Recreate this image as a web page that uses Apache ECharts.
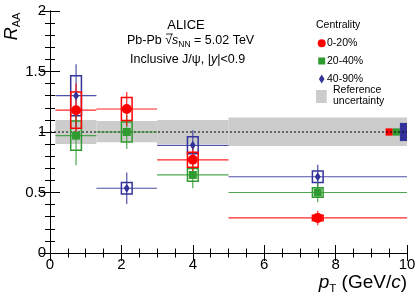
<!DOCTYPE html>
<html><head><meta charset="utf-8">
<script src="https://cdn.jsdelivr.net/npm/echarts@6/dist/echarts.min.js"></script>
<style>html,body{margin:0;padding:0;background:#fff}#c{width:420px;height:302px}</style>
</head><body><div id="c"></div>
<script>
// ---- data ----
const ptCenter = [0.73, 2.15, 4.0, 7.5];
const ptLow = [0.15, 1.3, 3, 5];
const ptHigh = [1.3, 3, 5, 10];

const raa020 = [1.18, 1.19, 0.77, 0.29];
const stat020 = [0.22, 0.14, 0.11, 0.06];
const syst020 = [0.15, 0.095, 0.062, 0.023];

const raa2040 = [0.97, 1.0, 0.645, 0.50];
const stat2040 = [0.245, 0.14, 0.11, 0.08];
const syst2040 = [0.12, 0.082, 0.053, 0.04];

const raa4090 = [1.30, 0.535, 0.89, 0.63];
const stat4090 = [0.26, 0.13, 0.125, 0.10];
const syst4090 = [0.165, 0.047, 0.07, 0.047];

const refLow = [0.15, 1.3, 3, 5];
const refHigh = [1.3, 3, 5, 10];
const refUp = [1.10, 1.09, 1.10, 1.12];
const refDown = [0.90, 0.915, 0.90, 0.885];

const globalLow = [9.4, 9.6, 9.8];
const globalHigh = [9.6, 9.8, 10.0];
const globalUnc = [0.03, 0.03, 0.075];

const xTickLabels = ['0', '2', '4', '6', '8', '10'];
const yTickLabels = ['0', '0.5', '1', '1.5', '2'];

const cRed = '#ff0000', cGreen = '#2f9a2f', cBlue = '#333399';
const FONT = '"Liberation Sans", Arial, Helvetica, sans-serif';

function errSeries(name, color, vals, stat, syst) {
  return {
    type: 'custom', name: name,
    data: ptCenter.map((x, i) => [x, vals[i], ptLow[i], ptHigh[i], stat[i], syst[i]]),
    encode: { x: 0, y: 1 },
    renderItem: function (params, api) {
      const xc = api.value(0), y = api.value(1), xl = api.value(2), xh = api.value(3);
      const s = api.value(4), sy = api.value(5);
      const pL = api.coord([xl, y]), pH = api.coord([xh, y]);
      const pT = api.coord([xc, y + s]), pB = api.coord([xc, y - s]);
      const b1 = api.coord([xc - 0.15, y + sy]), b2 = api.coord([xc + 0.15, y - sy]);
      return { type: 'group', children: [
        { type: 'line', shape: { x1: pL[0], y1: pL[1], x2: pH[0], y2: pH[1] }, style: { stroke: color, lineWidth: 1.2, opacity: 0.85 } },
        { type: 'line', shape: { x1: pT[0], y1: pT[1], x2: pB[0], y2: pB[1] }, style: { stroke: color, lineWidth: 1.2, opacity: 0.85 } },
        { type: 'rect', shape: { x: b1[0], y: b1[1], width: b2[0] - b1[0], height: b2[1] - b1[1] }, style: { fill: 'none', stroke: color, lineWidth: 1.5 } }
      ] };
    },
    z: 5
  };
}
function markerSeries(color, vals, symbol, size) {
  return {
    type: 'scatter', data: ptCenter.map((x, i) => [x, vals[i]]),
    symbol: symbol, symbolSize: size, itemStyle: { color: color, opacity: 1 },
    z: 6, silent: true
  };
}

const chart = echarts.init(document.getElementById('c'), null, { renderer: 'canvas' });
const axisCommon = {
  axisLine: { show: true, lineStyle: { color: '#000', width: 1 } },
  splitLine: { show: false },
  axisTick: { show: true, inside: true, length: 8, lineStyle: { color: '#000' } },
  minorTick: { show: true, splitNumber: 4, length: 4.5, lineStyle: { color: '#000' } }
};
const option = {
  animation: false,
  backgroundColor: '#fff',
  grid: { left: 50, right: 13, top: 11, bottom: 49 },
  xAxis: [
    Object.assign({}, axisCommon, { type: 'value', min: 0, max: 10, interval: 2, position: 'bottom',
      axisLabel: { show: true, color: '#000', fontSize: 15, fontFamily: FONT, margin: 4,
        formatter: v => xTickLabels[Math.round(v / 2)] } }),
    Object.assign({}, axisCommon, { type: 'value', min: 0, max: 10, interval: 2, position: 'top',
      axisLabel: { show: false } })
  ],
  yAxis: [
    Object.assign({}, axisCommon, { type: 'value', min: 0, max: 2, interval: 0.5, position: 'left',
      axisTick: { show: true, inside: true, length: 10, lineStyle: { color: '#000' } },
      minorTick: { show: true, splitNumber: 5, length: 5, lineStyle: { color: '#000' } },
      axisLabel: { show: true, color: '#000', fontSize: 15, fontFamily: FONT, margin: 4,
        formatter: v => yTickLabels[Math.round(v / 0.5)] } }),
    Object.assign({}, axisCommon, { type: 'value', min: 0, max: 2, interval: 0.5, position: 'right',
      axisTick: { show: true, inside: true, length: 10, lineStyle: { color: '#000' } },
      minorTick: { show: true, splitNumber: 5, length: 5, lineStyle: { color: '#000' } },
      axisLabel: { show: false } })
  ],
  series: [
    {
      type: 'custom', name: 'ref',
      data: refLow.map((x, i) => [x, refHigh[i], refDown[i], refUp[i]]),
      encode: { x: [0, 1], y: [2, 3] },
      renderItem: function (params, api) {
        const p1 = api.coord([api.value(0), api.value(3)]);
        const p2 = api.coord([api.value(1), api.value(2)]);
        return { type: 'rect', shape: { x: p1[0], y: p1[1], width: p2[0] - p1[0], height: p2[1] - p1[1] }, style: { fill: '#cccccc' } };
      },
      z: 1
    },
    {
      type: 'custom', name: 'global',
      data: globalLow.map((x, i) => [x, globalHigh[i], globalUnc[i], i]),
      encode: { x: [0, 1], y: 2 },
      renderItem: function (params, api) {
        const cols = [cRed, cGreen, cBlue];
        const u = api.value(2);
        const p1 = api.coord([api.value(0), 1 + u]);
        const p2 = api.coord([api.value(1), 1 - u]);
        return { type: 'rect', shape: { x: p1[0], y: p1[1], width: p2[0] - p1[0], height: p2[1] - p1[1] }, style: { fill: cols[api.value(3)] } };
      },
      z: 2
    },
    {
      type: 'line', data: [[0, 1], [10, 1]], symbol: 'none', silent: true,
      lineStyle: { color: '#000', width: 1, type: [2, 2] }, z: 3
    },
    errSeries('40-90%', cBlue, raa4090, stat4090, syst4090),
    errSeries('20-40%', cGreen, raa2040, stat2040, syst2040),
    errSeries('0-20%', cRed, raa020, stat020, syst020),
    markerSeries(cBlue, raa4090, 'diamond', [6, 9]),
    markerSeries(cGreen, raa2040, 'rect', 8),
    markerSeries(cRed, raa020, 'circle', 10)
  ],
  graphic: [
    { type: 'text', x: 11.5, y: 26.5, rotation: Math.PI / 2, z: 10,
      style: { text: '{r|R}{s|AA}', textAlign: 'center', textVerticalAlign: 'middle',
        rich: { r: { fontSize: 18, fontStyle: 'italic', fontFamily: FONT, fill: '#000', lineHeight: 22, verticalAlign: 'middle' },
                s: { fontSize: 11, fontFamily: FONT, fill: '#000', verticalAlign: 'bottom', lineHeight: 22 } } } },
    { type: 'text', x: 407, y: 283, z: 10,
      style: { text: '{p|p}{t|T}{n| (GeV/}{c|c}{n|)}', textAlign: 'right', textVerticalAlign: 'middle',
        rich: { p: { fontSize: 19, fontStyle: 'italic', fontFamily: FONT, fill: '#000', lineHeight: 24, verticalAlign: 'middle' },
                t: { fontSize: 11.5, fontFamily: FONT, fill: '#000', lineHeight: 24, verticalAlign: 'bottom' },
                n: { fontSize: 19, fontFamily: FONT, fill: '#000', lineHeight: 24, verticalAlign: 'middle' },
                c: { fontSize: 19, fontStyle: 'italic', fontFamily: FONT, fill: '#000', lineHeight: 24, verticalAlign: 'middle' } } } },
    { type: 'text', x: 186, y: 25, z: 10,
      style: { text: 'ALICE', textAlign: 'center', textVerticalAlign: 'middle', fontSize: 13, fontFamily: FONT, fill: '#000' } },
    { type: 'text', x: 127, y: 41, z: 10,
      style: { text: '{n|Pb-Pb }{n|√}{i|s}{s|NN}{n| = 5.02 TeV}', textAlign: 'left', textVerticalAlign: 'middle',
        rich: { n: { fontSize: 12.5, fontFamily: FONT, fill: '#000', lineHeight: 16, verticalAlign: 'middle' },
                i: { fontSize: 12.5, fontStyle: 'italic', fontFamily: FONT, fill: '#000', lineHeight: 16, verticalAlign: 'middle' },
                s: { fontSize: 8.5, fontFamily: FONT, fill: '#000', lineHeight: 16, verticalAlign: 'bottom' } } } },
    { type: 'line', z: 10, shape: { x1: 166, y1: 34, x2: 173, y2: 34 }, style: { stroke: '#000', lineWidth: 0.8 } },
    { type: 'text', x: 130, y: 60, z: 10,
      style: { text: '{n|Inclusive J/ψ, |}{i|y}{n||<0.9}', textAlign: 'left', textVerticalAlign: 'middle',
        rich: { n: { fontSize: 12.5, fontFamily: FONT, fill: '#000', lineHeight: 16 },
                i: { fontSize: 12.5, fontStyle: 'italic', fontFamily: FONT, fill: '#000', lineHeight: 16 } } } },
    { type: 'text', x: 316, y: 25, z: 10,
      style: { text: 'Centrality', textAlign: 'left', textVerticalAlign: 'middle', fontSize: 10.5, fontFamily: FONT, fill: '#000' } },
    { type: 'circle', z: 10, shape: { cx: 321.7, cy: 43.3, r: 4 }, style: { fill: cRed } },
    { type: 'text', x: 327, y: 43.3, z: 10,
      style: { text: '0-20%', textAlign: 'left', textVerticalAlign: 'middle', fontSize: 10.5, fontFamily: FONT, fill: '#000' } },
    { type: 'rect', z: 10, shape: { x: 318.2, y: 57.5, width: 7, height: 7 }, style: { fill: cGreen } },
    { type: 'text', x: 327, y: 61, z: 10,
      style: { text: '20-40%', textAlign: 'left', textVerticalAlign: 'middle', fontSize: 10.5, fontFamily: FONT, fill: '#000' } },
    { type: 'polygon', z: 10, shape: { points: [[321.7, 74.5], [324.5, 79], [321.7, 83.5], [318.9, 79]] }, style: { fill: cBlue } },
    { type: 'text', x: 327, y: 79, z: 10,
      style: { text: '40-90%', textAlign: 'left', textVerticalAlign: 'middle', fontSize: 10.5, fontFamily: FONT, fill: '#000' } },
    { type: 'rect', z: 10, shape: { x: 316, y: 90, width: 10.7, height: 13 }, style: { fill: '#cccccc' } },
    { type: 'text', x: 333, y: 90.3, z: 10,
      style: { text: 'Reference', textAlign: 'left', textVerticalAlign: 'middle', fontSize: 10.5, fontFamily: FONT, fill: '#000' } },
    { type: 'text', x: 333, y: 101, z: 10,
      style: { text: 'uncertainty', textAlign: 'left', textVerticalAlign: 'middle', fontSize: 10.5, fontFamily: FONT, fill: '#000' } }
  ]
};
chart.setOption(option);
</script>
</body></html>
